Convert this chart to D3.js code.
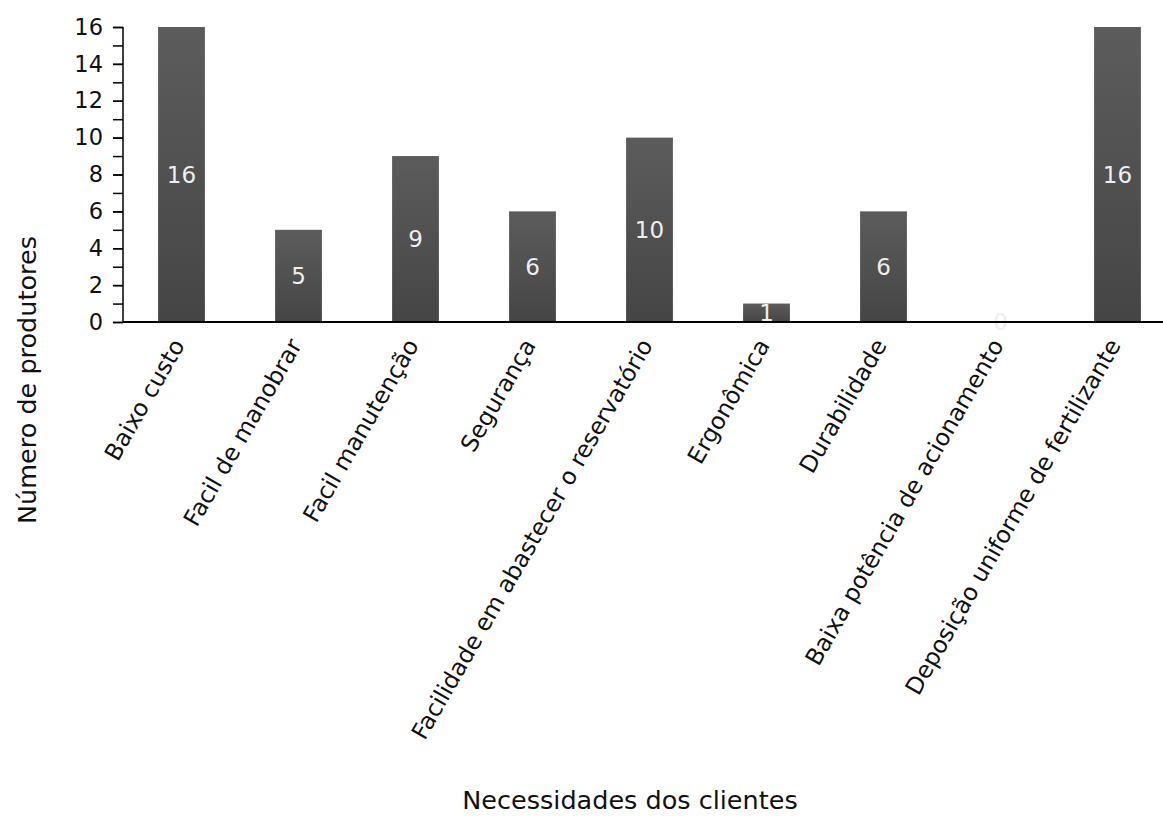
<!DOCTYPE html>
<html>
<head>
<meta charset="utf-8">
<script src="https://cdn.jsdelivr.net/npm/d3@7/dist/d3.min.js"></script>
<style>
  body { margin: 0; background: #fff; }
  svg { display: block; font-family: "DejaVu Sans", sans-serif; }
</style>
</head>
<body>
<svg id="chart" width="1163" height="821"></svg>
<script>
const categories = [
  "Baixo custo",
  "Facil de manobrar",
  "Facil manutenção",
  "Segurança",
  "Facilidade em abastecer o reservatório",
  "Ergonômica",
  "Durabilidade",
  "Baixa potência de acionamento",
  "Deposição uniforme de fertilizante"
];
const values = [16, 5, 9, 6, 10, 1, 6, 0, 16];
const yTicks = [0, 2, 4, 6, 8, 10, 12, 14, 16];
const yMinorTicks = [0,1,2,3,4,5,6,7,8,9,10,11,12,13,14,15,16];
const xTitle = "Necessidades dos clientes";
const yTitle = "Número de produtores";

const svg = d3.select("#chart");
const x0 = 123, x1 = 1176, yBottom = 322, yTop = 27;

const x = d3.scaleBand().domain(categories).range([x0, x1]).paddingInner(0.6).paddingOuter(0.3);
const y = d3.scaleLinear().domain([0, 16]).range([yBottom, yTop]);

const defs = svg.append("defs");
const grad = defs.append("linearGradient").attr("id", "barGrad")
  .attr("x1", 0).attr("y1", 0).attr("x2", 0).attr("y2", 1);
grad.append("stop").attr("offset", "0%").attr("stop-color", "#5c5c5c");
grad.append("stop").attr("offset", "100%").attr("stop-color", "#454545");

// bars
svg.append("g").selectAll("rect").data(values).join("rect")
  .attr("x", (d, i) => x(categories[i]))
  .attr("y", d => y(d))
  .attr("width", x.bandwidth())
  .attr("height", d => y(0) - y(d))
  .attr("fill", "url(#barGrad)");

// value labels
svg.append("g").selectAll("text").data(values).join("text")
  .attr("x", (d, i) => x(categories[i]) + x.bandwidth() / 2)
  .attr("y", d => y(d / 2))
  .attr("dy", "0.36em")
  .attr("text-anchor", "middle")
  .attr("fill", "#eeeeee")
  .attr("font-size", 23)
  .text(d => d);

// y axis minor ticks
const yAxisMinor = d3.axisLeft(y).tickValues(yMinorTicks).tickSize(10).tickFormat("");
const gMinor = svg.append("g").attr("transform", `translate(${x0},0)`).call(yAxisMinor);
gMinor.select(".domain").remove();
gMinor.selectAll("line").attr("stroke", "#000").attr("stroke-width", 1.5);

// y axis major
const yAxis = d3.axisLeft(y).tickValues(yTicks).tickSize(10).tickPadding(10).tickFormat(d3.format("d"));
const gy = svg.append("g").attr("transform", `translate(${x0},0)`).call(yAxis);
gy.select(".domain").attr("d", `M0,${yTop}V${yBottom}`).attr("stroke", "#000").attr("stroke-width", 1.5);
gy.selectAll("line").attr("stroke", "#000").attr("stroke-width", 1.5);
gy.selectAll("text").attr("font-size", 22.5).attr("fill", "#111").attr("font-family", "DejaVu Sans");

// x axis
const xAxis = d3.axisBottom(x).tickSize(0).tickPadding(0);
const gx = svg.append("g").attr("transform", `translate(0,${yBottom})`).call(xAxis);
gx.select(".domain").attr("d", `M${x0},0H1163`).attr("stroke", "#000").attr("stroke-width", 2);
gx.selectAll("text")
  .attr("font-size", 23.5)
  .attr("font-family", "DejaVu Sans")
  .attr("fill", "#111")
  .attr("text-anchor", "end")
  .attr("y", 0)
  .attr("dy", 0)
  .attr("transform", "translate(4,23) rotate(-60)");

// axis titles
svg.append("text")
  .attr("x", 630).attr("y", 809)
  .attr("text-anchor", "middle")
  .attr("font-size", 25.5)
  .attr("fill", "#111")
  .text(xTitle);

svg.append("text")
  .attr("transform", `translate(36,380) rotate(-90)`)
  .attr("text-anchor", "middle")
  .attr("font-size", 25.5)
  .attr("fill", "#111")
  .text(yTitle);
</script>
</body>
</html>
